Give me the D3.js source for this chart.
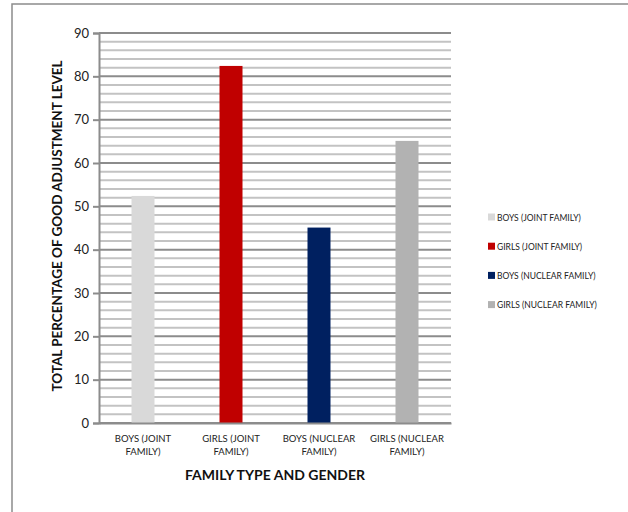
<!DOCTYPE html>
<html>
<head>
<meta charset="utf-8">
<script src="https://cdn.jsdelivr.net/npm/d3@7/dist/d3.min.js"></script>
<style>
  body { margin: 0; background: #fff; }
  svg { display: block; font-family: Lato, "Open Sans", sans-serif; }
</style>
</head>
<body>
<div id="chart"></div>
<script>
// Chart values
const categories = ['BOYS (JOINT FAMILY)', 'GIRLS (JOINT FAMILY)', 'BOYS (NUCLEAR FAMILY)', 'GIRLS (NUCLEAR FAMILY)'];
const tickLines = [['BOYS (JOINT', 'FAMILY)'], ['GIRLS (JOINT', 'FAMILY)'], ['BOYS (NUCLEAR', 'FAMILY)'], ['GIRLS (NUCLEAR', 'FAMILY)']];
const values = [52.4, 82.4, 45.1, 65.1];
const colors = ['#d9d9d9', '#c00000', '#002060', '#b2b2b2'];
const majorTicks = [0, 10, 20, 30, 40, 50, 60, 70, 80, 90];
const minorTicks = d3.range(0, 91, 2);

const W = 628, H = 512;
const MARGIN = { top: 33, right: 177, bottom: 89, left: 99 };
const innerW = W - MARGIN.left - MARGIN.right;
const innerH = H - MARGIN.top - MARGIN.bottom;

const svg = d3.select('#chart').append('svg').attr('width', W).attr('height', H);

// outer chart frame
svg.append('rect')
  .attr('x', 12).attr('y', 4)
  .attr('width', W + 20).attr('height', H + 20)
  .attr('fill', 'none').attr('stroke', '#8c8c8c').attr('stroke-width', 1.5);

const g = svg.append('g').attr('transform', `translate(${MARGIN.left},${MARGIN.top})`);

const x = d3.scaleBand().domain(categories).range([0, innerW]);
const y = d3.scaleLinear().domain([0, 90]).range([innerH, 0]);

// minor gridlines
g.append('g').selectAll('line')
  .data(minorTicks.filter(v => v % 10 !== 0))
  .join('line')
  .attr('x1', 0).attr('x2', innerW)
  .attr('y1', d => y(d)).attr('y2', d => y(d))
  .attr('stroke', '#c3c3c3').attr('stroke-width', 2);

// major gridlines
g.append('g').selectAll('line')
  .data(majorTicks)
  .join('line')
  .attr('x1', 0).attr('x2', innerW)
  .attr('y1', d => y(d)).attr('y2', d => y(d))
  .attr('stroke', '#8c8c8c').attr('stroke-width', 2);

// bars
const barW = 23;
g.append('g').selectAll('rect')
  .data(values)
  .join('rect')
  .attr('x', (d, i) => x(categories[i]) + x.bandwidth() / 2 - barW / 2)
  .attr('width', barW)
  .attr('y', d => y(d))
  .attr('height', d => innerH - y(d))
  .attr('fill', (d, i) => colors[i]);

// y axis
const yAxisG = g.append('g')
  .call(d3.axisLeft(y).tickValues(majorTicks).tickSize(6).tickPadding(4));
yAxisG.select('.domain').attr('stroke', '#8c8c8c').attr('stroke-width', 2);
yAxisG.selectAll('.tick line').attr('stroke', '#8c8c8c').attr('stroke-width', 2);
yAxisG.selectAll('.tick text')
  .attr('font-size', '13px').attr('fill', '#222')
  .attr('font-family', 'Lato, "Open Sans", sans-serif');

// x axis
const xAxisG = g.append('g')
  .attr('transform', `translate(0,${innerH})`)
  .call(d3.axisBottom(x).tickSize(0).tickFormat(''));
xAxisG.select('.domain').attr('stroke', '#8c8c8c').attr('stroke-width', 2);
xAxisG.selectAll('.tick').each(function (d, i) {
  const t = d3.select(this).append('text')
    .attr('fill', '#222')
    .attr('font-size', '9.5px')
    .attr('text-anchor', 'middle')
    .attr('font-family', 'Lato, "Open Sans", sans-serif');
  tickLines[i].forEach((ln, k) => {
    t.append('tspan').attr('x', 0).attr('y', 18.5 + k * 13.5).text(ln);
  });
});

// axis titles
svg.append('text')
  .attr('x', MARGIN.left + innerW / 2)
  .attr('y', 480)
  .attr('text-anchor', 'middle')
  .attr('font-size', '14px')
  .attr('font-weight', 'bold')
  .attr('fill', '#111')
  .text('FAMILY TYPE AND GENDER');

svg.append('text')
  .attr('transform', `translate(62,${MARGIN.top + innerH / 2 - 2}) rotate(-90)`)
  .attr('text-anchor', 'middle')
  .attr('font-size', '13.5px')
  .attr('font-weight', 'bold')
  .attr('fill', '#111')
  .text('TOTAL PERCENTAGE OF GOOD ADJUSTMENT LEVEL');

// legend
const legendG = svg.append('g').attr('transform', 'translate(488,217)');
categories.forEach((c, i) => {
  const row = legendG.append('g').attr('transform', `translate(0,${i * 29.2})`);
  row.append('rect')
    .attr('x', 0).attr('y', -3.5)
    .attr('width', 7).attr('height', 7)
    .attr('fill', colors[i]);
  row.append('text')
    .attr('x', 9).attr('y', 3.5)
    .attr('font-size', '8.5px')
    .attr('fill', '#222')
    .text(c);
});
</script>
</body>
</html>
